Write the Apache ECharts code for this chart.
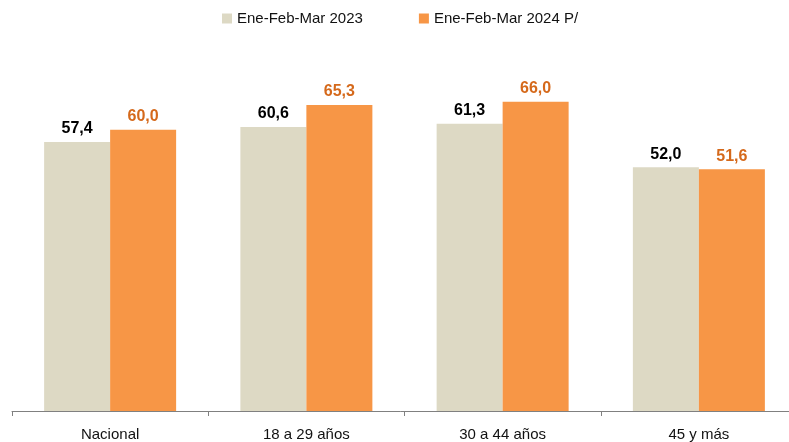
<!DOCTYPE html>
<html>
<head>
<meta charset="utf-8">
<script src="https://cdn.jsdelivr.net/npm/echarts@6/dist/echarts.min.js"></script>
<style>
html, body { margin: 0; padding: 0; background: #fff; }
#chart { width: 789px; height: 442px; }
</style>
</head>
<body>
<div id="chart"></div>
<script>
// 数据
const categories = ['Nacional', '18 a 29 años', '30 a 44 años', '45 y más'];
const serie2023 = [57.4, 60.6, 61.3, 52.0];
const serie2024 = [60.0, 65.3, 66.0, 51.6];
const seriesNames = ['Ene-Feb-Mar 2023', 'Ene-Feb-Mar 2024 P/'];

const chart = echarts.init(document.getElementById('chart'));

// 小数点用逗号
function fmt(p) {
	return p.value.toFixed(1).replace('.', ',');
}

const font = '"Liberation Sans", Arial, sans-serif';

const option = {
	animation: false,
	textStyle: { fontFamily: font },
	legend: {
		top: 6,
		left: 217,
		itemWidth: 10,
		itemHeight: 10,
		itemGap: 56,
		icon: 'rect',
		textStyle: { fontSize: 15, color: '#111', fontFamily: font },
		data: seriesNames
	},
	grid: {
		left: 12,
		width: 785,
		top: 36,
		bottom: 31,
		outerBoundsMode: 'none' // 允许网格超出容器右侧
	},
	xAxis: {
		type: 'category',
		data: categories,
		axisLine: { lineStyle: { color: '#808080', width: 1 } },
		axisTick: { show: true, inside: false, length: 5, lineStyle: { color: '#808080' } },
		axisLabel: { fontSize: 15, color: '#111', margin: 16, fontFamily: font }
	},
	yAxis: {
		type: 'value',
		min: 0,
		max: 80,
		show: false,
		splitLine: { show: false }
	},
	series: [
		{
			name: seriesNames[0],
			type: 'bar',
			data: serie2023,
			barWidth: 66,
			barGap: '0%',
			itemStyle: { color: '#DDD9C4' },
			label: {
				show: true,
				position: 'top',
				distance: 5,
				formatter: fmt,
				fontSize: 16,
				fontWeight: 'bold',
				fontFamily: font,
				color: '#000'
			}
		},
		{
			name: seriesNames[1],
			type: 'bar',
			data: serie2024,
			barWidth: 66,
			barGap: '0%',
			itemStyle: { color: '#F79646' },
			label: {
				show: true,
				position: 'top',
				distance: 5,
				formatter: fmt,
				fontSize: 16,
				fontWeight: 'bold',
				fontFamily: font,
				color: '#D5691B'
			}
		}
	]
};
chart.setOption(option);
</script>
</body>
</html>
